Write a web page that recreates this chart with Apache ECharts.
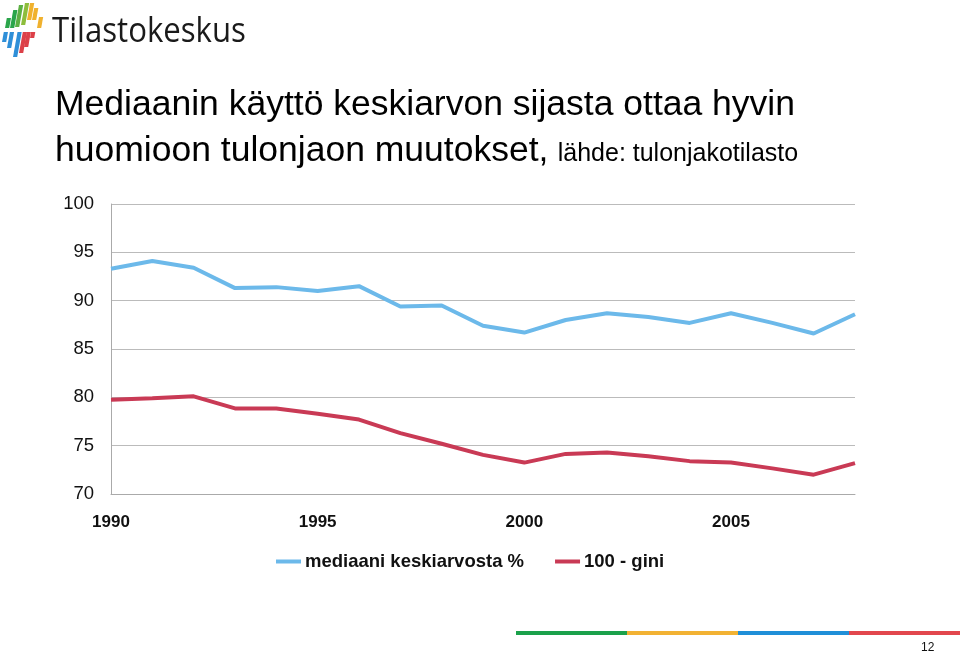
<!DOCTYPE html>
<html lang="fi">
<head>
    <meta charset="UTF-8">
    <title>Mediaani ja gini</title>
    <script src="https://cdn.jsdelivr.net/npm/echarts@6/dist/echarts.min.js"></script>
    <style>
        html, body { margin: 0; padding: 0; background: #fff; }
    </style>
</head>
<body>
<div id="main" style="width: 960px;height:653px;"></div>
<script type="text/javascript">
    // vuodet ja sarjat
    var years = ['1990','1991','1992','1993','1994','1995','1996','1997','1998','1999',
                 '2000','2001','2002','2003','2004','2005','2006','2007','2008'];
    var mediaani = [93.3, 94.1, 93.4, 91.3, 91.4, 91.0, 91.5, 89.4, 89.5, 87.4,
                    86.7, 88.0, 88.7, 88.3, 87.7, 88.7, 87.7, 86.6, 88.6];
    var gini100 = [79.75, 79.9, 80.1, 78.85, 78.85, 78.3, 77.7, 76.3, 75.2, 74.05,
                   73.25, 74.15, 74.3, 73.9, 73.4, 73.25, 72.65, 72.0, 73.2];
    var seriesNames = ['mediaani keskiarvosta %', '100 - gini'];
    var yTicks = [70, 75, 80, 85, 90, 95, 100];

    var font = '"Liberation Sans", Arial, sans-serif';

    // logon raidat: [x, yTop, yBottom, väri]
    var stripes = [
        [5, 18, 28, '#2aa54a'], [10, 10, 28, '#2aa54a'], [15, 5, 27, '#5cb043'], [21, 3, 25, '#8dbd3c'],
        [27, 3, 20, '#f0b12e'], [32, 8, 20, '#f0b12e'], [37, 17, 28, '#f0b12e'],
        [2, 32, 42, '#2f8fd8'], [7, 32, 48, '#2f8fd8'], [13, 32, 57, '#2f8fd8'],
        [19, 32, 53, '#dc4048'], [24, 32, 47, '#dc4048'], [30, 32, 38, '#dc4048']
    ];
    var logo = stripes.map(function (s) {
        var x = s[0], y0 = s[1], y1 = s[2], slant = 0.18;
        var w = 4.2;
        var dx = (y1 - y0) * slant;
        return {
            type: 'polygon',
            shape: { points: [[x + dx, y0], [x + dx + w, y0], [x + w, y1], [x, y1]] },
            style: { fill: s[3] }
        };
    });

    var bar = [['#1ba14b', 516], ['#f2b233', 627], ['#1f8fd8', 738], ['#e2474d', 849]].map(function (b) {
        return { type: 'rect', shape: { x: b[1], y: 631, width: 111, height: 4 }, style: { fill: b[0] } };
    });

    var myChart = echarts.init(document.getElementById('main'));
    var option = {
        backgroundColor: '#fff',
        animation: false,
        grid: { left: 111, right: 105, top: 204, bottom: 159 },
        legend: {
            left: 271,
            top: 547,
            icon: 'rect',
            itemWidth: 25,
            itemHeight: 4,
            itemGap: 31,
            textStyle: { fontFamily: font, fontSize: 18.5, fontWeight: 'bold', color: '#111', padding: [0, 0, 0, -1] },
            data: seriesNames
        },
        xAxis: {
            type: 'category',
            boundaryGap: false,
            data: years,
            axisLine: { lineStyle: { color: '#aaa' } },
            axisTick: { show: false },
            axisLabel: {
                interval: 4,
                margin: 20,
                fontFamily: font,
                fontSize: 17,
                fontWeight: 'bold',
                color: '#111'
            }
        },
        yAxis: {
            type: 'value',
            min: yTicks[0],
            max: yTicks[yTicks.length - 1],
            interval: 5,
            axisLine: { show: true, lineStyle: { color: '#aaa' } },
            axisTick: { show: false },
            splitLine: { lineStyle: { color: '#bbb' } },
            axisLabel: { margin: 17, fontFamily: font, fontSize: 18.5, color: '#111', padding: [4, 0, 0, 0] }
        },
        series: [
            {
                name: seriesNames[0],
                type: 'line',
                data: mediaani,
                symbol: 'none',
                color: '#6cb9ea',
                lineStyle: { width: 4, color: '#6cb9ea' }
            },
            {
                name: seriesNames[1],
                type: 'line',
                data: gini100,
                symbol: 'none',
                color: '#c93a55',
                lineStyle: { width: 4, color: '#c93a55' }
            }
        ],
        graphic: [
            { type: 'group', x: 0, y: 0, children: logo },
            {
                type: 'text', x: 52, y: 15, scaleX: 0.89,
                style: { text: 'Tilastokeskus', font: '35px "Open Sans", sans-serif', fill: '#1a1a1a', verticalAlign: 'top' }
            },
            {
                type: 'text', left: 55, top: 87,
                style: {
                    text: 'Mediaanin käyttö keskiarvon sijasta ottaa hyvin',
                    font: '35.5px ' + font, fill: '#000'
                }
            },
            {
                type: 'text', left: 55, top: 133,
                style: {
                    text: '{a|huomioon tulonjaon muutokset,} {b|lähde: tulonjakotilasto}',
                    rich: {
                        a: { font: '35.5px ' + font, fill: '#000', verticalAlign: 'bottom' },
                        b: { font: '25px ' + font, fill: '#000', verticalAlign: 'bottom', padding: [0, 0, 2, 6] }
                    }
                }
            }
        ].concat(bar).concat([
            {
                type: 'text', left: 921, top: 642,
                style: { text: '12', font: '12px ' + font, fill: '#111' }
            }
        ])
    };
    myChart.setOption(option);
</script>
</body>
</html>
